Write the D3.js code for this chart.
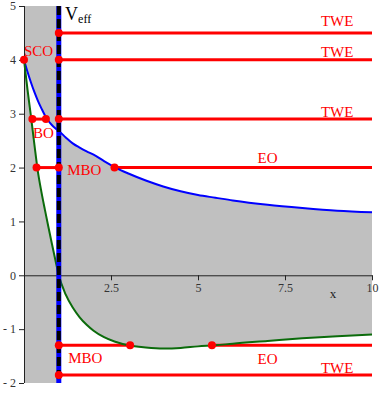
<!DOCTYPE html>
<html>
<head>
<meta charset="utf-8">
<script src="https://cdn.jsdelivr.net/npm/d3@7"></script>
<style>
  body { margin: 0; background: #fff; }
  text { font-family: "Liberation Serif", "DejaVu Serif", serif; }
</style>
</head>
<body>
<div id="chart"></div>
<script>
const width = 382;
const height = 394;

const xs = [0, 0.1, 0.2, 0.3, 0.4, 0.5, 0.6, 0.7, 0.8, 0.9, 1.0, 1.2, 1.4, 1.6, 1.8, 2.0,
  2.3, 2.6, 3.0, 3.5, 4.0, 4.5, 5.0, 5.5, 6.0, 7.0, 8.0, 9.0, 10.0];
const blueY = [4.0, 3.78, 3.58, 3.40, 3.24, 3.10, 2.97, 2.87, 2.79, 2.73, 2.68, 2.56, 2.45, 2.37, 2.30, 2.24,
  2.12, 2.01, 1.89, 1.76, 1.65, 1.56, 1.49, 1.44, 1.39, 1.31, 1.25, 1.20, 1.17];
const greenY = [4.0, 3.45, 2.95, 2.42, 1.92, 1.55, 1.22, 0.9, 0.59, 0.29, 0.0, -0.36, -0.6, -0.78, -0.92, -1.03,
  -1.15, -1.23, -1.30, -1.34, -1.36, -1.35, -1.32, -1.30, -1.27, -1.22, -1.17, -1.13, -1.10];

// horizontal energy levels: [level, from, to]
const segments = [
  [4.5, 1, 10], [4, 1, 10], [2.9, 0.24, 0.63], [2.9, 1, 10],
  [2, 0.36, 1], [2, 2.6, 10], [-1.3, 1, 3.05], [-1.3, 5.4, 10], [-1.85, 1, 10]
];
// turning points
const pointsX = [0, 1, 1, 1, 1, 1, 1, 0.24, 0.63, 0.36, 2.6, 3.05, 5.4];
const pointsY = [4, 4.5, 4, 2.9, 2, -1.3, -1.85, 2.9, 2.9, 2, 2, -1.3, -1.3];

// orbit labels
const labelText = ['TWE', 'TWE', 'TWE', 'TWE', 'EO', 'EO', 'MBO', 'MBO', 'SCO', 'BO'];
const labelX = [9, 9, 9, 9, 7, 7, 1.24, 1.27, 0, 0.26];
const labelY = [4.63, 4.06, 2.94, -1.81, 2.09, -1.65, 1.86, -1.63, 4.07, 2.55];
const labelAnchor = ['middle', 'middle', 'middle', 'middle', 'middle', 'middle', 'start', 'start', 'start', 'start'];

const xTicks = [2.5, 5, 7.5, 10];
const yTicks = [-2, -1, 0, 1, 2, 3, 4, 5];

const x = d3.scaleLinear().domain([0, 10]).range([24, 372]);
const y = d3.scaleLinear().domain([-2, 5]).range([383, 6]);

const svg = d3.select('#chart')
  .append('svg')
  .attr('width', width)
  .attr('height', height);

const rows = xs.map(function (d, i) { return { x: d, b: blueY[i], g: greenY[i] }; });
const inner = rows.filter(function (d) { return d.x <= 1; });
const outer = rows.filter(function (d) { return d.x >= 1; });

// forbidden region background
svg.append('rect')
  .attr('x', x(0))
  .attr('y', y(5))
  .attr('width', x(10) - x(0))
  .attr('height', y(-2) - y(5))
  .attr('fill', '#c0c0c0');

// allowed regions in white
const curve = d3.curveMonotoneX;
svg.append('path')
  .datum(inner)
  .attr('fill', '#fff')
  .attr('d', d3.area().curve(curve)
    .x(function (d) { return x(d.x); })
    .y0(function (d) { return y(d.g); })
    .y1(function (d) { return y(d.b); }));

svg.append('path')
  .datum(outer)
  .attr('fill', '#fff')
  .attr('d', d3.area().curve(curve)
    .x(function (d) { return x(d.x); })
    .y0(function (d) { return y(d.b); })
    .y1(y(5)));

svg.append('path')
  .datum(outer)
  .attr('fill', '#fff')
  .attr('d', d3.area().curve(curve)
    .x(function (d) { return x(d.x); })
    .y0(y(-2))
    .y1(function (d) { return y(d.g); }));

// axes
const yAxis = d3.axisLeft(y)
  .tickValues(yTicks)
  .tickSize(5)
  .tickPadding(3)
  .tickFormat(function (d) { return d < 0 ? '- ' + Math.abs(d) : d; });
const gy = svg.append('g')
  .attr('transform', 'translate(' + x(0) + ',0)')
  .call(yAxis);

const xAxis = d3.axisBottom(x)
  .tickValues(xTicks)
  .tickSize(5)
  .tickPadding(3)
  .tickSizeOuter(0)
  .tickFormat(function (d) { return d; });
const gx = svg.append('g')
  .attr('transform', 'translate(0,' + y(0) + ')')
  .call(xAxis);

[gx, gy].forEach(function (g) {
  g.select('.domain').attr('stroke', '#222').attr('stroke-width', 1);
  g.selectAll('.tick line').attr('stroke', '#222');
  g.selectAll('.tick text')
    .attr('fill', '#333')
    .style('font-family', '"Liberation Serif", serif')
    .style('font-size', '12px');
});
gy.select('.domain').attr('d', 'M0.5,' + y(5) + 'V' + y(-2));

svg.append('text')
  .attr('x', x(8.88))
  .attr('y', y(0) + 23)
  .attr('text-anchor', 'middle')
  .attr('fill', '#222')
  .style('font-size', '13px')
  .text('x');

// energy level lines
svg.selectAll('.level')
  .data(segments)
  .enter()
  .append('line')
  .attr('class', 'level')
  .attr('x1', function (d) { return x(d[1]); })
  .attr('x2', function (d) { return x(d[2]); })
  .attr('y1', function (d) { return y(d[0]); })
  .attr('y2', function (d) { return y(d[0]); })
  .attr('stroke', '#ff0000')
  .attr('stroke-width', 3);

// effective potential curves
const line = d3.line().curve(curve).x(function (d) { return x(d.x); });
svg.append('path')
  .datum(rows)
  .attr('fill', 'none')
  .attr('stroke', '#0000ff')
  .attr('stroke-width', 2)
  .attr('d', line.y(function (d) { return y(d.b); }));

svg.append('path')
  .datum(rows)
  .attr('fill', 'none')
  .attr('stroke', '#0b6b0b')
  .attr('stroke-width', 2)
  .attr('d', line.y(function (d) { return y(d.g); }));

// horizon at x = 1: blue line under black dashes
svg.append('line')
  .attr('x1', x(1)).attr('x2', x(1))
  .attr('y1', y(5)).attr('y2', y(-2))
  .attr('stroke', '#0000ff')
  .attr('stroke-width', 5);
svg.append('line')
  .attr('x1', x(1)).attr('x2', x(1))
  .attr('y1', y(5)).attr('y2', y(-2))
  .attr('stroke', '#000')
  .attr('stroke-width', 4)
  .attr('stroke-dasharray', '9,4');

// turning points
svg.selectAll('.point')
  .data(pointsX)
  .enter()
  .append('circle')
  .attr('class', 'point')
  .attr('cx', function (d) { return x(d); })
  .attr('cy', function (d, i) { return y(pointsY[i]); })
  .attr('r', 4)
  .attr('fill', '#ff0000');

// labels
svg.selectAll('.label')
  .data(labelText)
  .enter()
  .append('text')
  .attr('class', 'label')
  .attr('x', function (d, i) { return x(labelX[i]); })
  .attr('y', function (d, i) { return y(labelY[i]); })
  .attr('text-anchor', function (d, i) { return labelAnchor[i]; })
  .attr('fill', '#ff0000')
  .style('font-size', '15px')
  .text(function (d) { return d; });

const veff = svg.append('text')
  .attr('x', x(1.18))
  .attr('y', y(4.74))
  .attr('fill', '#000')
  .style('font-size', '18px');
veff.append('tspan').text('V');
veff.append('tspan')
  .attr('dy', 3)
  .style('font-size', '12px')
  .text('eff');
</script>
</body>
</html>
